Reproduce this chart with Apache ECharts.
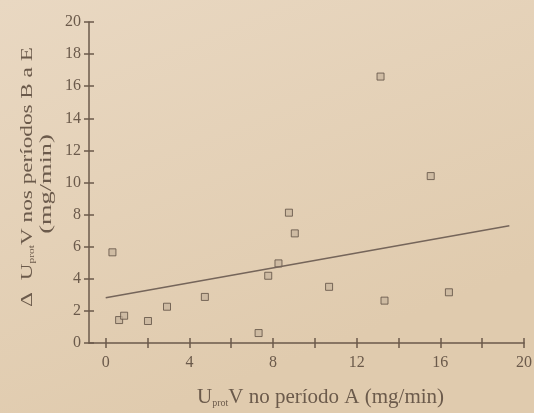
<!DOCTYPE html>
<html>
<head>
<meta charset="utf-8">
<script src="https://cdn.jsdelivr.net/npm/echarts@6/dist/echarts.min.js"></script>
<style>
html,body{margin:0;padding:0;background:#e3cfb4;}
#c{width:534px;height:413px;}
</style>
</head>
<body>
<div id="c"></div>
<script>
// Data
var xPeriodA = [0.32, 0.64, 0.88, 2.02, 2.93, 4.74, 7.31, 7.77, 8.26, 8.76, 9.04, 10.68, 13.14, 13.33, 15.54, 16.41];
var yPeriodsBE = [5.65, 1.43, 1.70, 1.37, 2.26, 2.87, 0.62, 4.19, 4.96, 8.12, 6.83, 3.50, 16.6, 2.64, 10.4, 3.16];
var fitX = [0, 19.3];
var fitY = [2.82, 7.3];
var xTicks = [0, 2, 4, 6, 8, 10, 12, 14, 16, 18, 20];
var xLabels = [0, 4, 8, 12, 16, 20];

var ink = '#6b5a4b';
var font = 'Liberation Serif';

var points = xPeriodA.map(function (x, i) { return [x, yPeriodsBE[i]]; });
var fit = fitX.map(function (x, i) { return [x, fitY[i]]; });

var chart = echarts.init(document.getElementById('c'), null, {renderer: 'canvas'});

var commonX = {
  type: 'value', min: -0.8, max: 20, position: 'bottom',
  splitLine: {show: false}
};
var commonY = {
  type: 'value', min: 0, max: 20, interval: 2, position: 'left',
  splitLine: {show: false}
};
var richSub = {
  n: {fontSize: 21, fontFamily: font, color: ink, lineHeight: 24, verticalAlign: 'bottom'},
  s: {fontSize: 10, fontFamily: font, color: ink, lineHeight: 24, verticalAlign: 'bottom'}
};
var richSubY = {
  n: {fontSize: 16, fontFamily: font, fill: ink, lineHeight: 20, verticalAlign: 'bottom'},
  s: {fontSize: 8, fontFamily: font, fill: ink, lineHeight: 20, verticalAlign: 'bottom'}
};

chart.setOption({
  backgroundColor: {
    type: 'linear', x: 0, y: 0, x2: 0.3, y2: 1,
    colorStops: [{offset: 0, color: '#e9d8c2'}, {offset: 1, color: '#e0cbae'}]
  },
  animation: false,
  grid: {left: 89, right: 10, top: 22, bottom: 70, outerBoundsMode: 'none'},
  xAxis: [
    Object.assign({}, commonX, {
      axisLine: {show: true, onZero: false, lineStyle: {color: ink, width: 1.5}},
      axisTick: {show: true, inside: false, length: 5, customValues: xTicks, lineStyle: {color: ink, width: 1.5}},
      axisLabel: {show: true, customValues: xLabels, margin: 12, color: ink, fontFamily: font, fontSize: 16},
      name: '{n|U}{s|prot}{n|V no período A (mg/min)}',
      nameLocation: 'middle', nameGap: 41,
      nameTextStyle: {color: ink, fontFamily: font, padding: [0, 0, 0, 28], rich: richSub}
    }),
    Object.assign({}, commonX, {
      axisLine: {show: true, onZero: false, lineStyle: {color: ink, width: 1.5, opacity: 0}},
      axisTick: {show: true, inside: true, length: 5, customValues: xTicks, lineStyle: {color: ink, width: 1.5}},
      axisLabel: {show: false}
    })
  ],
  yAxis: [
    Object.assign({}, commonY, {
      axisLine: {show: true, onZero: false, lineStyle: {color: ink, width: 1.5}},
      axisTick: {show: true, inside: false, length: 5, lineStyle: {color: ink, width: 1.5}},
      axisLabel: {show: true, margin: 8, color: ink, fontFamily: font, fontSize: 16}
    }),
    Object.assign({}, commonY, {
      axisLine: {show: true, onZero: false, lineStyle: {color: ink, width: 1.5, opacity: 0}},
      axisTick: {show: true, inside: true, length: 5, lineStyle: {color: ink, width: 1.5}},
      axisLabel: {show: false}
    })
  ],
  graphic: [{
    type: 'text', x: 26, y: 177, rotation: Math.PI / 2, scaleX: 1.45, scaleY: 1,
    style: {
      text: '{n|Δ  U}{s|prot}{n|V nos períodos B a E}', rich: richSubY,
      fill: ink, font: '16px "Liberation Serif"', align: 'center', verticalAlign: 'middle'
    }
  }, {
    type: 'text', x: 47, y: 184, rotation: Math.PI / 2, scaleX: 1.65, scaleY: 1,
    style: {text: '(mg/min)', fill: ink, font: '16px "Liberation Serif"', align: 'center', verticalAlign: 'middle'}
  }],
  series: [
    {
      type: 'scatter', xAxisIndex: 0, yAxisIndex: 0, data: points,
      symbol: 'rect', symbolSize: 7,
      itemStyle: {color: '#c9b79f', borderColor: '#5e4f42', borderWidth: 1}
    },
    {
      type: 'line', xAxisIndex: 0, yAxisIndex: 0, data: fit,
      symbol: 'none', lineStyle: {color: '#75655a', width: 1.6}
    },
    {
      type: 'scatter', xAxisIndex: 1, yAxisIndex: 1, data: points,
      symbolSize: 0, silent: true, itemStyle: {opacity: 0}
    }
  ]
});
</script>
</body>
</html>
